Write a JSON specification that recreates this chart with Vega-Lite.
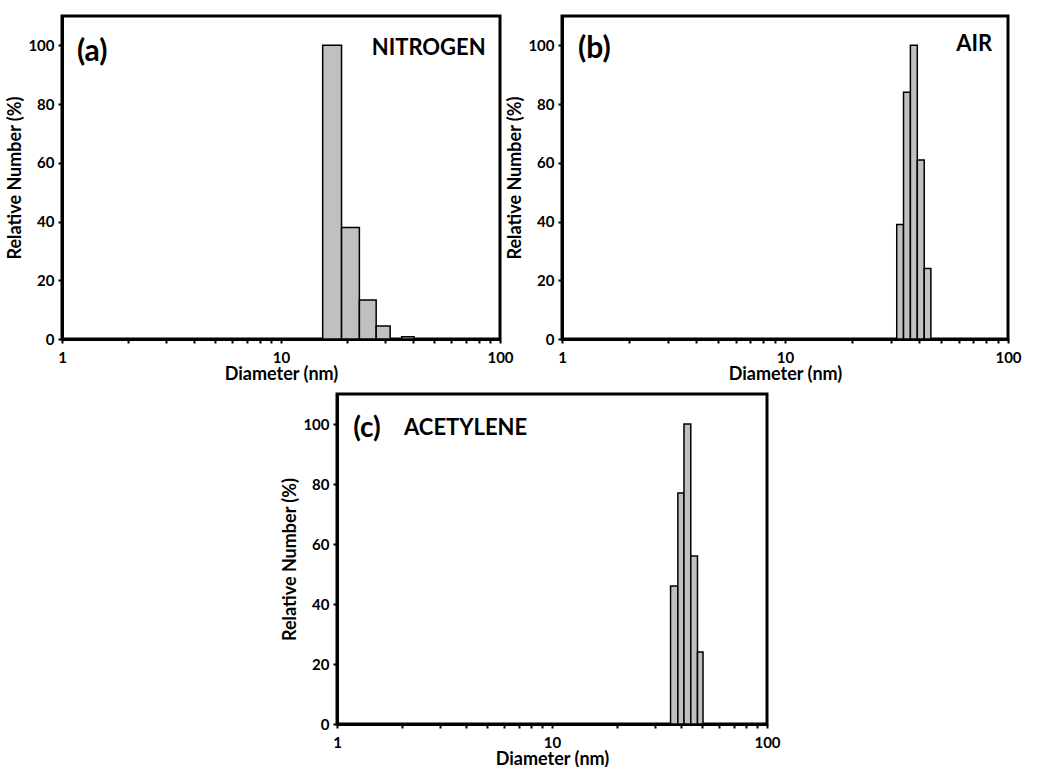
{
  "$schema": "https://vega.github.io/schema/vega-lite/v6.json",
  "background": "white",
  "padding": {"left": 5, "top": 14, "right": 5, "bottom": 0},
  "spacing": 7,
  "config": {
    "view": {"stroke": "black", "strokeWidth": 3},
    "font": "Lato",
    "axis": {
      "domainColor": "black", "domainWidth": 3,
      "tickColor": "black", "tickWidth": 2, "tickSize": 4,
      "labelFont": "Lato", "labelFontWeight": "bold", "labelFontSize": 15, "labelColor": "black",
      "titleFont": "Lato", "titleFontWeight": "bold", "titleFontSize": 18, "titleColor": "black",
      "grid": false, "labelOverlap": false, "labelFlush": false, "labelBound": false
    },
    "axisX": {"labelPadding": 7, "titlePadding": 0},
    "axisY": {"labelPadding": 4, "titlePadding": 3}
  },
  "datasets": {
    "a": [
      {"lo": 15.5, "hi": 18.9, "pct": 100},
      {"lo": 18.9, "hi": 22.8, "pct": 38},
      {"lo": 22.8, "hi": 27.2, "pct": 13.3},
      {"lo": 27.2, "hi": 31.5, "pct": 4.4},
      {"lo": 35.6, "hi": 40.5, "pct": 0.8}
    ],
    "b": [
      {"lo": 31.7, "hi": 34.0, "pct": 39},
      {"lo": 34.0, "hi": 36.5, "pct": 84},
      {"lo": 36.5, "hi": 39.2, "pct": 100},
      {"lo": 39.2, "hi": 42.1, "pct": 61},
      {"lo": 42.1, "hi": 45.1, "pct": 24}
    ],
    "c": [
      {"lo": 35.6, "hi": 38.5, "pct": 46},
      {"lo": 38.5, "hi": 41.1, "pct": 77},
      {"lo": 41.1, "hi": 44.2, "pct": 100},
      {"lo": 44.2, "hi": 47.5, "pct": 56},
      {"lo": 47.5, "hi": 50.4, "pct": 24}
    ]
  },
  "vconcat": [
    {
      "spacing": -10,
      "hconcat": [
        {
          "width": 438, "height": 323,
          "layer": [
            {
              "data": {"name": "a"},
              "mark": {"type": "bar", "fill": "#c0c0c0", "stroke": "black", "strokeWidth": 1.5},
              "encoding": {
                "x": {"field": "lo", "type": "quantitative", "scale": {"type": "log", "domain": [1, 100]},
                      "axis": {"title": "Diameter (nm)", "format": "d",
                               "values": [1,2,3,4,5,6,7,8,9,10,20,30,40,50,60,70,80,90,100],
                               "labelExpr": "indexof([1,10,100], datum.value) >= 0 ? datum.label : ''"}},
                "x2": {"field": "hi"},
                "y": {"field": "pct", "type": "quantitative", "scale": {"domain": [0, 108]},
                      "axis": {"title": "Relative Number (%)",
                               "values": [0,10,20,30,40,50,60,70,80,90,100],
                               "labelExpr": "datum.value % 20 == 0 ? datum.label : ''"}},
                "y2": {"datum": 0}
              }
            },
            {
              "data": {"values": [{"t": "(a)"}]},
              "mark": {"type": "text", "font": "Lato", "fontWeight": "bold", "fontSize": 30, "align": "left", "baseline": "top", "color": "black"},
              "encoding": {"x": {"datum": 1.17}, "y": {"datum": 103}, "text": {"field": "t"}}
            },
            {
              "data": {"values": [{"t": "NITROGEN"}]},
              "mark": {"type": "text", "font": "Lato", "fontWeight": "bold", "fontSize": 22, "align": "right", "baseline": "top", "color": "black"},
              "encoding": {"x": {"datum": 86}, "y": {"datum": 102.5}, "text": {"field": "t"}}
            }
          ]
        },
        {
          "width": 446, "height": 323,
          "layer": [
            {
              "data": {"name": "b"},
              "mark": {"type": "bar", "fill": "#c0c0c0", "stroke": "black", "strokeWidth": 1.5},
              "encoding": {
                "x": {"field": "lo", "type": "quantitative", "scale": {"type": "log", "domain": [1, 100]},
                      "axis": {"title": "Diameter (nm)", "format": "d",
                               "values": [1,2,3,4,5,6,7,8,9,10,20,30,40,50,60,70,80,90,100],
                               "labelExpr": "indexof([1,10,100], datum.value) >= 0 ? datum.label : ''"}},
                "x2": {"field": "hi"},
                "y": {"field": "pct", "type": "quantitative", "scale": {"domain": [0, 108]},
                      "axis": {"title": "Relative Number (%)",
                               "values": [0,10,20,30,40,50,60,70,80,90,100],
                               "labelExpr": "datum.value % 20 == 0 ? datum.label : ''"}},
                "y2": {"datum": 0}
              }
            },
            {
              "data": {"values": [{"t": "(b)"}]},
              "mark": {"type": "text", "font": "Lato", "fontWeight": "bold", "fontSize": 30, "align": "left", "baseline": "top", "color": "black"},
              "encoding": {"x": {"datum": 1.18}, "y": {"datum": 104}, "text": {"field": "t"}}
            },
            {
              "data": {"values": [{"t": "AIR"}]},
              "mark": {"type": "text", "font": "Lato", "fontWeight": "bold", "fontSize": 22, "align": "right", "baseline": "top", "color": "black"},
              "encoding": {"x": {"datum": 85}, "y": {"datum": 104}, "text": {"field": "t"}}
            }
          ]
        }
      ]
    },
    {
      "spacing": 0,
      "hconcat": [
        {
          "width": 218, "height": 10,
          "view": {"stroke": null},
          "data": {"values": []},
          "mark": "point",
          "encoding": {}
        },
        {
          "width": 430, "height": 330,
          "layer": [
            {
              "data": {"name": "c"},
              "mark": {"type": "bar", "fill": "#c0c0c0", "stroke": "black", "strokeWidth": 1.5},
              "encoding": {
                "x": {"field": "lo", "type": "quantitative", "scale": {"type": "log", "domain": [1, 100]},
                      "axis": {"title": "Diameter (nm)", "format": "d",
                               "values": [1,2,3,4,5,6,7,8,9,10,20,30,40,50,60,70,80,90,100],
                               "labelExpr": "indexof([1,10,100], datum.value) >= 0 ? datum.label : ''"}},
                "x2": {"field": "hi"},
                "y": {"field": "pct", "type": "quantitative", "scale": {"domain": [0, 108.5]},
                      "axis": {"title": "Relative Number (%)",
                               "values": [0,10,20,30,40,50,60,70,80,90,100],
                               "labelExpr": "datum.value % 20 == 0 ? datum.label : ''"}},
                "y2": {"datum": 0}
              }
            },
            {
              "data": {"values": [{"t": "(c)"}]},
              "mark": {"type": "text", "font": "Lato", "fontWeight": "bold", "fontSize": 28, "align": "left", "baseline": "top", "color": "black"},
              "encoding": {"x": {"datum": 1.19}, "y": {"datum": 103}, "text": {"field": "t"}}
            },
            {
              "data": {"values": [{"t": "ACETYLENE"}]},
              "mark": {"type": "text", "font": "Lato", "fontWeight": "bold", "fontSize": 22, "align": "left", "baseline": "top", "color": "black"},
              "encoding": {"x": {"datum": 2.05}, "y": {"datum": 102}, "text": {"field": "t"}}
            }
          ]
        }
      ]
    }
  ]
}
